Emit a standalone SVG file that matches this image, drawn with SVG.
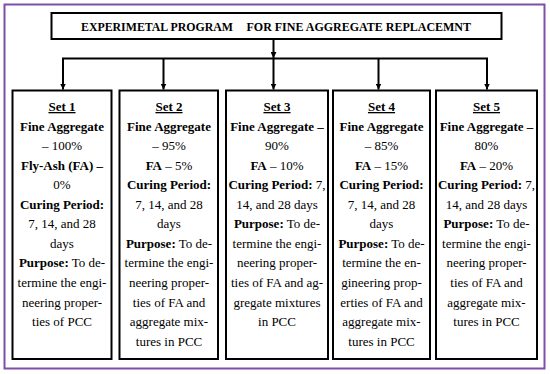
<svg xmlns="http://www.w3.org/2000/svg" width="550" height="374" viewBox="0 0 550 374">
<defs>
<style>
.frame{fill:#fff;stroke:#7E4FA8;stroke-width:2}
.box{fill:#fff;stroke:#000;stroke-width:2}
.ln{fill:none;stroke:#000;stroke-width:2}
text{font-family:'Liberation Serif','Times New Roman',serif;font-size:13px;fill:#000;text-anchor:middle}
.t{font-size:12px;font-weight:bold;text-anchor:start}
.b{font-weight:bold}
.u{font-weight:bold;text-decoration:underline}
</style>
<marker id="ah" viewBox="0 0 10 10" refX="10" refY="5" markerWidth="6" markerHeight="6" markerUnits="userSpaceOnUse" orient="auto">
<path d="M0,0 L10,5 L0,10 Z" fill="#000"/>
</marker>
</defs>
<rect x="0" y="0" width="550" height="374" fill="#fff"/>
<rect class="frame" x="4.5" y="4.5" width="540" height="364"/>

<g id="title" font-family="Liberation Serif, serif">
<rect class="box" x="51.5" y="13" width="450" height="26"/>
<text class="t" x="81" y="31" textLength="152" lengthAdjust="spacingAndGlyphs">EXPERIMETAL PROGRAM</text>
<text class="t" x="246.5" y="31" textLength="224.5" lengthAdjust="spacingAndGlyphs">FOR FINE AGGREGATE REPLACEMNT</text>
</g>

<g id="connectors">
<line class="ln" x1="273.5" y1="39" x2="273.5" y2="58" marker-end="url(#ah)"/>
<line class="ln" x1="62" y1="58.5" x2="488" y2="58.5"/>
<line class="ln" x1="63" y1="58.5" x2="63" y2="89.5" marker-end="url(#ah)"/>
<line class="ln" x1="163.5" y1="58.5" x2="163.5" y2="89.5" marker-end="url(#ah)"/>
<line class="ln" x1="273.5" y1="58.5" x2="273.5" y2="89.5" marker-end="url(#ah)"/>
<line class="ln" x1="378.5" y1="58.5" x2="378.5" y2="89.5" marker-end="url(#ah)"/>
<line class="ln" x1="487" y1="58.5" x2="487" y2="89.5" marker-end="url(#ah)"/>
</g>

<g id="set1">
<rect class="box" x="12.5" y="90.5" width="99" height="268.5"/>
<text x="62" y="111" class="u">Set 1</text>
<text x="62" y="131" class="b">Fine Aggregate</text>
<text x="62" y="150">– 100%</text>
<text x="62" y="170" class="b">Fly-Ash (FA) –</text>
<text x="62" y="189">0%</text>
<text x="62" y="209" class="b">Curing Period:</text>
<text x="62" y="228">7, 14, and 28</text>
<text x="62" y="248">days</text>
<text x="62" y="267"><tspan class="b">Purpose:</tspan> To de-</text>
<text x="62" y="287">termine the engi-</text>
<text x="62" y="307">neering proper-</text>
<text x="62" y="326">ties of PCC</text>
</g>

<g id="set2">
<rect class="box" x="119.5" y="90.5" width="98.5" height="268.5"/>
<text x="169" y="111" class="u">Set 2</text>
<text x="169" y="131" class="b">Fine Aggregate</text>
<text x="169" y="150">– 95%</text>
<text x="169" y="170"><tspan class="b">FA</tspan> – 5%</text>
<text x="169" y="189" class="b">Curing Period:</text>
<text x="169" y="209">7, 14, and 28</text>
<text x="169" y="228">days</text>
<text x="169" y="248"><tspan class="b">Purpose:</tspan> To de-</text>
<text x="169" y="267">termine the engi-</text>
<text x="169" y="287">neering proper-</text>
<text x="169" y="307">ties of FA and</text>
<text x="169" y="326">aggregate mix-</text>
<text x="169" y="346">tures in PCC</text>
</g>

<g id="set3">
<rect class="box" x="226" y="90.5" width="102" height="268.5"/>
<text x="277" y="111" class="u">Set 3</text>
<text x="277" y="131" class="b">Fine Aggregate –</text>
<text x="277" y="150">90%</text>
<text x="277" y="170"><tspan class="b">FA</tspan> – 10%</text>
<text x="277" y="189"><tspan class="b">Curing Period:</tspan> 7,</text>
<text x="277" y="209">14, and 28 days</text>
<text x="277" y="228"><tspan class="b">Purpose:</tspan> To de-</text>
<text x="277" y="248">termine the engi-</text>
<text x="277" y="267">neering proper-</text>
<text x="277" y="287">ties of FA and ag-</text>
<text x="277" y="307">gregate mixtures</text>
<text x="277" y="326">in PCC</text>
</g>

<g id="set4">
<rect class="box" x="333" y="90.5" width="97" height="268.5"/>
<text x="381.5" y="111" class="u">Set 4</text>
<text x="381.5" y="131" class="b">Fine Aggregate</text>
<text x="381.5" y="150">– 85%</text>
<text x="381.5" y="170"><tspan class="b">FA</tspan> – 15%</text>
<text x="381.5" y="189" class="b">Curing Period:</text>
<text x="381.5" y="209">7, 14, and 28</text>
<text x="381.5" y="228">days</text>
<text x="381.5" y="248"><tspan class="b">Purpose:</tspan> To de-</text>
<text x="381.5" y="267">termine the en-</text>
<text x="381.5" y="287">gineering prop-</text>
<text x="381.5" y="307">erties of FA and</text>
<text x="381.5" y="326">aggregate mix-</text>
<text x="381.5" y="346">tures in PCC</text>
</g>

<g id="set5">
<rect class="box" x="436" y="90.5" width="101" height="268.5"/>
<text x="486.5" y="111" class="u">Set 5</text>
<text x="486.5" y="131" class="b">Fine Aggregate –</text>
<text x="486.5" y="150">80%</text>
<text x="486.5" y="170"><tspan class="b">FA</tspan> – 20%</text>
<text x="486.5" y="189"><tspan class="b">Curing Period:</tspan> 7,</text>
<text x="486.5" y="209">14, and 28 days</text>
<text x="486.5" y="228"><tspan class="b">Purpose:</tspan> To de-</text>
<text x="486.5" y="248">termine the engi-</text>
<text x="486.5" y="267">neering proper-</text>
<text x="486.5" y="287">ties of FA and</text>
<text x="486.5" y="307">aggregate mix-</text>
<text x="486.5" y="326">tures in PCC</text>
</g>
</svg>
